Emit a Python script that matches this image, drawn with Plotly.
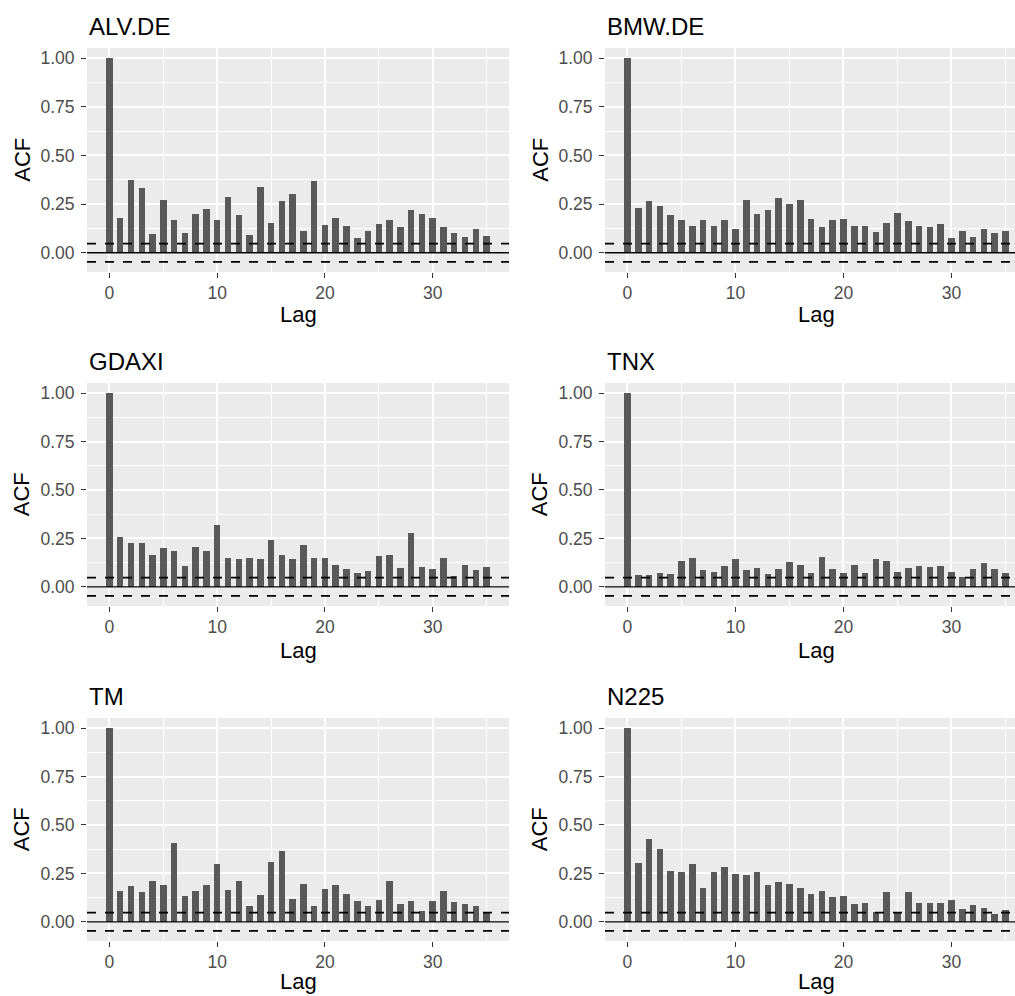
import plotly.graph_objects as go

# ---------------- data ----------------
lags = list(range(36))
series_names = ["ALV.DE", "BMW.DE", "GDAXI", "TNX", "TM", "N225"]

acf_alv = [1.0, 0.181, 0.373, 0.332, 0.098, 0.269, 0.166, 0.104, 0.197, 0.223,
           0.166, 0.285, 0.192, 0.093, 0.337, 0.155, 0.264, 0.301, 0.114, 0.368,
           0.145, 0.181, 0.140, 0.078, 0.114, 0.150, 0.166, 0.130, 0.218, 0.197,
           0.181, 0.130, 0.104, 0.083, 0.124, 0.088]
acf_bmw = [1.0, 0.228, 0.264, 0.238, 0.192, 0.166, 0.135, 0.166, 0.140, 0.166,
           0.124, 0.269, 0.197, 0.218, 0.280, 0.249, 0.269, 0.171, 0.130, 0.166,
           0.171, 0.140, 0.135, 0.109, 0.155, 0.202, 0.161, 0.135, 0.130, 0.150,
           0.078, 0.114, 0.083, 0.124, 0.104, 0.114]
acf_gdaxi = [1.0, 0.257, 0.226, 0.226, 0.164, 0.200, 0.184, 0.107, 0.205, 0.184,
             0.319, 0.148, 0.143, 0.148, 0.143, 0.241, 0.164, 0.143, 0.216, 0.148,
             0.148, 0.112, 0.091, 0.071, 0.081, 0.159, 0.164, 0.097, 0.278, 0.102,
             0.091, 0.148, 0.055, 0.112, 0.086, 0.102]
acf_tnx = [1.0, 0.060, 0.060, 0.071, 0.066, 0.133, 0.148, 0.086, 0.076, 0.107,
           0.143, 0.086, 0.097, 0.066, 0.091, 0.128, 0.112, 0.071, 0.153, 0.091,
           0.071, 0.112, 0.071, 0.143, 0.133, 0.076, 0.097, 0.107, 0.102, 0.107,
           0.076, 0.050, 0.091, 0.122, 0.091, 0.071]
acf_tm = [1.0, 0.161, 0.187, 0.155, 0.212, 0.192, 0.409, 0.135, 0.161, 0.192,
          0.301, 0.166, 0.212, 0.083, 0.140, 0.311, 0.368, 0.119, 0.197, 0.083,
          0.171, 0.192, 0.145, 0.109, 0.083, 0.114, 0.212, 0.093, 0.109, 0.057,
          0.109, 0.161, 0.104, 0.093, 0.083, 0.047]
acf_n225 = [1.0, 0.306, 0.430, 0.378, 0.264, 0.259, 0.301, 0.176, 0.259, 0.285,
            0.249, 0.244, 0.259, 0.192, 0.207, 0.197, 0.176, 0.145, 0.161, 0.130,
            0.135, 0.093, 0.098, 0.052, 0.155, 0.047, 0.155, 0.098, 0.098, 0.098,
            0.114, 0.067, 0.088, 0.073, 0.041, 0.062]
series_values = [acf_alv, acf_bmw, acf_gdaxi, acf_tnx, acf_tm, acf_n225]

conf_bound = 0.047
y_tick_vals = [0.0, 0.25, 0.5, 0.75, 1.0]
y_tick_text = ["0.00", "0.25", "0.50", "0.75", "1.00"]
y_minor_vals = [0.125, 0.375, 0.625, 0.875]
x_tick_vals = [0, 10, 20, 30]
x_tick_text = ["0", "10", "20", "30"]
x_minor_vals = [5, 15, 25, 35]

# ---------------- layout geometry ----------------
W, H = 1015, 996
col_left = [87, 605]
col_right = [509, 1015]
row_top = [48, 383, 718]
row_bot = [272, 606, 941]
x_ranges = [[-2.08, 37.08], [-2.08, 35.88]]
y_range = [-0.099, 1.0524]

FONT = "Liberation Sans, Arial, Helvetica, sans-serif"
BAR_COL = "#595959"
PANEL_BG = "#EBEBEB"

def px_x(p):
    return p / W

def px_y(p):
    return 1 - p / H

fig = go.Figure()
layout = dict(
    width=W, height=H,
    margin=dict(l=0, r=0, t=0, b=0),
    paper_bgcolor="white", plot_bgcolor=PANEL_BG,
    showlegend=False, bargap=0,
    font=dict(family=FONT),
)
shapes = []
annotations = []

for i, (name, vals) in enumerate(zip(series_names, series_values)):
    r, c = i // 2, i % 2
    s = "" if i == 0 else str(i + 1)
    fig.add_trace(go.Bar(
        x=lags, y=vals, width=0.6,
        marker=dict(color=BAR_COL, line=dict(width=0)),
        xaxis="x" + s, yaxis="y" + s, hoverinfo="x+y",
    ))
    layout["xaxis" + s] = dict(
        domain=[px_x(col_left[c]), px_x(col_right[c])],
        range=x_ranges[c], anchor="y" + s,
        tickmode="array", tickvals=x_tick_vals, ticktext=x_tick_text,
        ticks="outside", ticklen=5, tickwidth=1.2, tickcolor="#333333",
        tickfont=dict(family=FONT, size=17.5, color="#4D4D4D"),
        showgrid=True, gridcolor="white", gridwidth=2,
        minor=dict(tickmode="array", tickvals=x_minor_vals, showgrid=True,
                   gridcolor="white", gridwidth=1, ticks=""),
        zeroline=False, showline=False, fixedrange=True,
    )
    layout["yaxis" + s] = dict(
        domain=[px_y(row_bot[r]), px_y(row_top[r])],
        range=y_range, anchor="x" + s,
        tickmode="array", tickvals=y_tick_vals, ticktext=y_tick_text,
        ticks="outside", ticklen=5, tickwidth=1.2, tickcolor="#333333",
        tickfont=dict(family=FONT, size=17.5, color="#4D4D4D"),
        ticklabelstandoff=3,
        showgrid=True, gridcolor="white", gridwidth=2,
        minor=dict(tickmode="array", tickvals=y_minor_vals, showgrid=True,
                   gridcolor="white", gridwidth=1, ticks=""),
        zeroline=False, showline=False, fixedrange=True,
    )
    xref_dom = "x" + s + " domain"
    yref = "y" + s
    shapes.append(dict(type="line", xref=xref_dom, yref=yref, x0=0, x1=1,
                       y0=0, y1=0, line=dict(color="black", width=1.3)))
    for yv in (conf_bound, -conf_bound):
        shapes.append(dict(type="line", xref=xref_dom, yref=yref, x0=0, x1=1,
                           y0=yv, y1=yv,
                           line=dict(color="black", width=1.8, dash="9px,9px")))
    off_y = 335 * r
    off_x = col_left[c] - col_left[0]
    # panel title
    annotations.append(dict(text=name, xref="paper", yref="paper",
                            x=px_x(col_left[c]), y=px_y(26.7 + off_y),
                            xanchor="left", yanchor="middle", showarrow=False,
                            font=dict(family=FONT, size=24, color="black")))
    # x axis title (bottom row nudged up slightly so it is not clipped)
    lag_y = 315 + off_y - (4 if r == 2 else 0)
    annotations.append(dict(text="Lag", xref="paper", yref="paper",
                            x=px_x(col_left[c] + 211), y=px_y(lag_y),
                            xanchor="center", yanchor="middle", showarrow=False,
                            font=dict(family=FONT, size=22, color="black")))
    # y axis title
    annotations.append(dict(text="ACF", xref="paper", yref="paper",
                            x=px_x(21.7 + off_x), y=px_y((row_top[r] + row_bot[r]) / 2),
                            xanchor="center", yanchor="middle", showarrow=False,
                            textangle=-90,
                            font=dict(family=FONT, size=22, color="black")))

layout["shapes"] = shapes
layout["annotations"] = annotations
fig.update_layout(**layout)
fig.write_html(
    "out.html",
    config={"displayModeBar": False},
    post_script="document.body.style.margin='0px';document.body.style.overflow='hidden';",
)
